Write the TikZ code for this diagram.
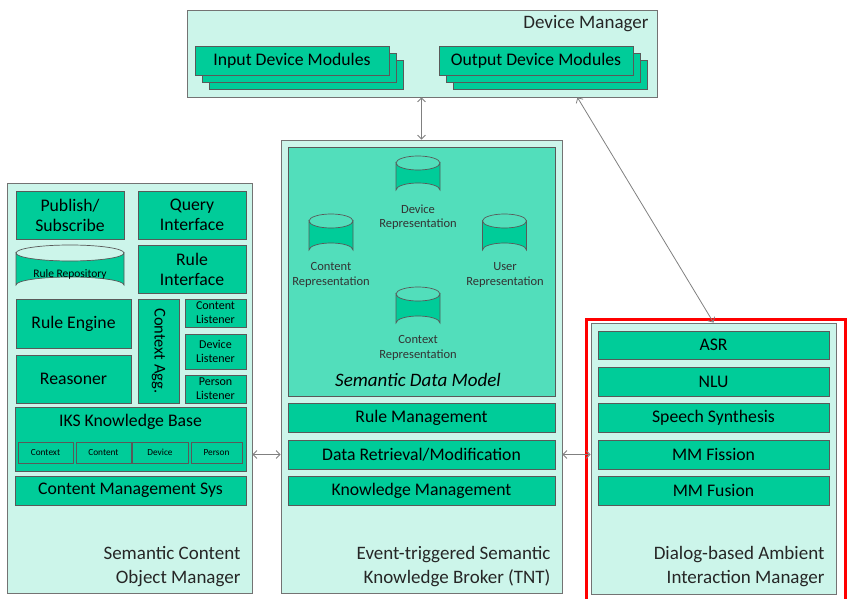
\documentclass[tikz,border=0pt]{standalone}
\usepackage{fontspec}
\setmainfont{Carlito}
\usetikzlibrary{arrows.meta,positioning}
\definecolor{mintlight}{RGB}{204,245,234}
\definecolor{modgreen}{RGB}{0,204,153}
\definecolor{modelgreen}{RGB}{82,222,187}

\begin{document}
\begin{tikzpicture}[x=1pt, y=-1pt,
    manager/.style={draw=black!55, fill=mintlight, line width=0.8pt, inner sep=0pt},
    module/.style={draw=black!65, fill=modgreen, line width=0.7pt, inner sep=0pt, align=center, font=\fontsize{17.7}{20}\selectfont},
    smallmod/.style={module, font=\fontsize{12}{14}\selectfont},
    tinymod/.style={module, font=\fontsize{9.3}{11}\selectfont},
    storeline/.style={draw=black!65, fill=modgreen, line width=0.7pt},
    storelabel/.style={align=center, font=\fontsize{12.5}{14.5}\selectfont, text=black!80},
    title/.style={align=right, anchor=east, font=\fontsize{19}{24}\selectfont, text=black!85},
    highlight/.style={draw=red, line width=3pt, anchor=north west, inner sep=0pt},
    link/.style={{Straight Barb[length=4pt,width=8pt]}-{Straight Barb[length=4pt,width=8pt]}, draw=gray, line width=0.8pt}
  ]
    \useasboundingbox (0,0) rectangle (849,599);
    \clip (0,0) rectangle (849,599);

    % Device Manager
    \node[manager, minimum width=470pt, minimum height=87pt] (dm) at (422,53.5) {};
    \node[title] (dmlabel) at (652,24) {Device Manager};
    \foreach \d in {14,7} {
      \node[module, minimum width=194pt, minimum height=29pt] at (292+\d,60.5+\d) {};
      \node[module, minimum width=194pt, minimum height=29pt] at (536+\d,60.5+\d) {};
    }
    \node[module, minimum width=194pt, minimum height=29pt] (inmod) at (292,60.5) {Input Device Modules};
    \node[module, minimum width=194pt, minimum height=29pt] (outmod) at (536,60.5) {Output Device Modules};

    % Semantic Content Object Manager
    \node[manager, minimum width=245pt, minimum height=410pt] (scom) at (129.5,388) {};
    \node[module, minimum width=108pt, minimum height=48pt] (pubsub) at (70,215) {Publish/\\Subscribe};
    \node[module, minimum width=108pt, minimum height=48pt] (query) at (192,215) {Query\\Interface};
    \node[module, minimum width=108pt, minimum height=48pt] (ruleif) at (192,269) {Rule\\Interface};
    \node[module, minimum width=115pt, minimum height=49pt] (ruleengine) at (73.5,323.5) {Rule Engine};
    \node[module, minimum width=115pt, minimum height=48pt] (reasoner) at (73.5,379) {Reasoner};
    \node[module, minimum width=41pt, minimum height=104pt] (ctxagg) at (158.5,351) {};
    \node[rotate=-90, font=\fontsize{16.5}{19}\selectfont] at (ctxagg.center) {Context Agg.};
    \node[smallmod, minimum width=61pt, minimum height=28pt] (contlis) at (215.5,313) {Content\\Listener};
    \node[smallmod, minimum width=61pt, minimum height=35pt] (devlis) at (215.5,351.5) {Device\\Listener};
    \node[smallmod, minimum width=61pt, minimum height=28pt] (perslis) at (215.5,389) {Person\\Listener};
    \node[module, minimum width=231pt, minimum height=64pt] (iks) at (130.5,439) {};
    \node[font=\fontsize{17.7}{20}\selectfont] (ikslabel) at (130.5,422) {IKS Knowledge Base};
    \node[tinymod, minimum width=55pt, minimum height=21pt] (iksctx) at (45.5,452.5) {Context};
    \node[tinymod, minimum width=55pt, minimum height=21pt] (ikscont) at (103.5,452.5) {Content};
    \node[tinymod, minimum width=56pt, minimum height=21pt] (iksdev) at (160,452.5) {Device};
    \node[tinymod, minimum width=51pt, minimum height=21pt] (ikspers) at (216.5,452.5) {Person};
    \node[module, minimum width=231pt, minimum height=29pt] (cms) at (130.5,490.5) {Content Management Sys};
    \node[title] (scomlabel) at (244,567) {Semantic Content\\Object Manager};

    % Semantic Knowledge Broker
    \node[manager, minimum width=281pt, minimum height=453pt] (tnt) at (421.5,366.5) {};
    \node[module, fill=modelgreen, minimum width=267pt, minimum height=249pt] (sdm) at (421.5,271.5) {};

    % cylinders: centre x, top y, bottom y, radius x, radius y
    \foreach \cx/\top/\bot/\rx/\ry in {70/245/293/54/8, 418/156/197/22/7, 331/214/257/22/7, 504.5/214/257/22/7, 418/287/330/22/7} {
      \draw[storeline] (\cx-\rx,\top+\ry) -- (\cx-\rx,\bot-\ry) arc (180:0:\rx pt and \ry pt)
        -- (\cx+\rx,\top+\ry) arc (0:-180:\rx pt and \ry pt) -- cycle;
      \draw[storeline, fill=none] (\cx-\rx,\top+\ry) arc (180:0:\rx pt and \ry pt);
    }
    \node[font=\fontsize{11.5}{13}\selectfont] (rulerepo) at (70,274) {Rule Repository};

    \node[storelabel] (devreplabel) at (418,217) {Device\\Representation};
    \node[storelabel] (contreplabel) at (331,275) {Content\\Representation};
    \node[storelabel] (userreplabel) at (505,275) {User\\Representation};
    \node[storelabel] (ctxreplabel) at (418,348) {Context\\Representation};
    \node[font=\fontsize{19}{22}\selectfont\itshape] (sdmlabel) at (418,380) {Semantic Data Model};
    \node[module, minimum width=267pt, minimum height=29pt] (rulemgmt) at (421.5,417.5) {Rule Management};
    \node[module, minimum width=267pt, minimum height=29pt] (dataret) at (421.5,454.5) {Data Retrieval/Modification};
    \node[module, minimum width=267pt, minimum height=29pt] (knowmgmt) at (421.5,490.5) {Knowledge Management};
    \node[title] (tntlabel) at (554,567) {Event-triggered Semantic\\Knowledge Broker (TNT)};

    % Dialog-based Ambient Interaction Manager
    \node[highlight, minimum width=259pt, minimum height=300pt] (focus) at (584.5,317.5) {};
    \node[manager, minimum width=245pt, minimum height=271pt] (daim) at (713.5,458.5) {};
    \node[module, minimum width=231pt, minimum height=28pt] (asr) at (713.5,345) {ASR};
    \node[module, minimum width=231pt, minimum height=29pt] (nlu) at (713.5,381.5) {NLU};
    \node[module, minimum width=231pt, minimum height=29pt] (tts) at (713.5,417.5) {Speech Synthesis};
    \node[module, minimum width=231pt, minimum height=29pt] (fission) at (713.5,454.5) {MM Fission};
    \node[module, minimum width=231pt, minimum height=29pt] (fusion) at (713.5,490.5) {MM Fusion};
    \node[title] (daimlabel) at (828,567) {Dialog-based Ambient\\Interaction Manager};

    % links
    \draw[link] (tnt.north |- dm.south) -- (tnt.north);
    \draw[link] ([xshift=-80pt]dm.south east) -- (daim.north);
    \draw[link] (scom.east |- dataret) -- (tnt.west |- dataret);
    \draw[link] (tnt.east |- dataret) -- (daim.west |- dataret);
  \end{tikzpicture}
\end{document}
